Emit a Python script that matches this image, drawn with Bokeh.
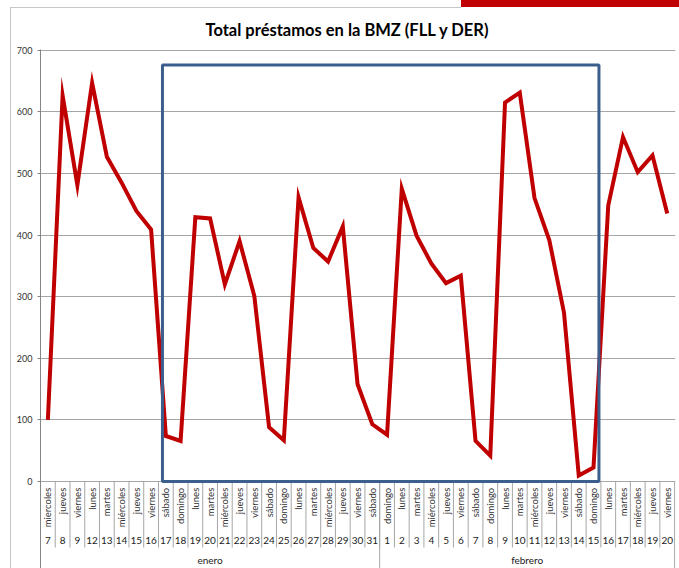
import numpy as np
from bokeh.plotting import figure
from bokeh.models import Range1d, FixedTicker, ColumnDataSource
from bokeh.core.properties import value
from bokeh.embed import file_html
from bokeh.resources import INLINE

# ---------------- data ----------------
titulo = "Total préstamos en la BMZ (FLL y DER)"
meses = ["enero", "febrero"]
dias_enero = [7, 8, 9, 12, 13, 14, 15, 16, 17, 18, 19, 20, 21, 22, 23, 24, 25, 26, 27, 28, 29, 30, 31]
dias_febrero = [1, 2, 3, 4, 5, 6, 7, 8, 9, 10, 11, 12, 13, 14, 15, 16, 17, 18, 19, 20]
nombres_enero = ["miercoles", "jueves", "viernes", "lunes", "martes", "miércoles", "jueves", "viernes",
                 "sábado", "domingo", "lunes", "martes", "miércoles", "jueves", "viernes",
                 "sábado", "domingo", "lunes", "martes", "miércoles", "jueves", "viernes", "sábado"]
nombres_febrero = ["domingo", "lunes", "martes", "miércoles", "jueves", "viernes", "sábado",
                   "domingo", "lunes", "martes", "miércoles", "jueves", "viernes", "sábado",
                   "domingo", "lunes", "martes", "miércoles", "jueves", "viernes"]
prestamos_enero = [100, 626, 481, 647, 527, 485, 439, 409, 74, 66, 429, 427, 320, 390, 301,
                   88, 67, 461, 379, 357, 414, 158, 93]
prestamos_febrero = [76, 475, 399, 354, 322, 334, 66, 42, 615, 631, 460, 392, 274, 10, 23,
                     448, 559, 502, 529, 435]
y_ticks = [0, 100, 200, 300, 400, 500, 600, 700]
# highlighted period: from sábado 17 enero to domingo 15 febrero
resaltado_inicio = ("enero", 17)
resaltado_fin = ("febrero", 15)
resaltado_tope = 676

# ---------------- derived ----------------
dias = dias_enero + dias_febrero
nombres = nombres_enero + nombres_febrero
valores = prestamos_enero + prestamos_febrero
mes_de = ["enero"] * len(dias_enero) + ["febrero"] * len(dias_febrero)
n = len(dias)
xs = list(range(n))
claves = list(zip(mes_de, dias))
i0 = claves.index(resaltado_inicio)
i1 = claves.index(resaltado_fin)

W, H = 679, 568
Y_MIN = -141
p = figure(width=W, height=H, output_backend="svg", toolbar_location=None,
           x_range=Range1d(-0.5, n - 0.5 + 0.06), y_range=Range1d(Y_MIN, 701),
           x_axis_location=None, min_border_left=40, min_border_right=4,
           min_border_top=49, min_border_bottom=0)
p.outline_line_color = None
p.background_fill_color = "white"
p.border_fill_color = None
p.border_fill_alpha = 0

# chart-area border lines and the slide's red bar, drawn as page background
p.styles = {
    "background-color": "white",
    "background-image": ("linear-gradient(#C00000,#C00000), "
                         "linear-gradient(#c8c8c8,#c8c8c8), "
                         "linear-gradient(#c8c8c8,#c8c8c8)"),
    "background-size": "218px 7px, 451px 1px, 1px 561px",
    "background-position": "461px 0px, 10px 7px, 10px 7px",
    "background-repeat": "no-repeat",
}

p.title.text = titulo
p.title.align = "left"
p.title.offset = 165
p.title.text_font = "Lato"
p.title.text_font_style = "bold"
p.title.text_font_size = "16.5px"
p.title.text_color = "#000000"
p.title.standoff = 19

# y axis
p.yaxis.ticker = FixedTicker(ticks=y_ticks)
p.yaxis.axis_line_color = "#868686"
p.yaxis.major_tick_line_color = "#868686"
p.yaxis.major_tick_out = 3
p.yaxis.major_tick_in = 0
p.yaxis.minor_tick_line_color = None
p.yaxis.major_label_standoff = 5
p.yaxis.major_label_text_font = "Lato"
p.yaxis.major_label_text_font_size = "9px"
p.yaxis.major_label_text_color = "#333333"
p.xgrid.visible = False
p.ygrid.ticker = FixedTicker(ticks=y_ticks)
p.ygrid.grid_line_color = "#a6a6a6"
p.ygrid.grid_line_width = 1

# category table below the plot
limites = [x - 0.5 for x in range(1, n)]
p.segment(x0=limites, y0=[0] * len(limites), x1=limites, y1=[-107] * len(limites),
          line_color="#a6a6a6", line_width=1)
corte = mes_de.index("febrero")
bordes_mes = [-0.5, corte - 0.5, n - 0.5]
p.segment(x0=bordes_mes, y0=[0] * 3, x1=bordes_mes, y1=[Y_MIN] * 3,
          line_color="#a6a6a6", line_width=1)

src = ColumnDataSource(dict(x=xs, y=valores, nombre=nombres,
                            dia=[str(d) for d in dias]))
p.text(x="x", y=-10, text="nombre", source=src, angle=np.pi / 2,
       text_align="right", text_baseline="middle", text_font=value("Lato"),
       text_font_size="9.5px", text_color="#333333")
p.text(x="x", y=-96, text="dia", source=src, text_align="center",
       text_baseline="middle", text_font=value("Lato"), text_font_size="10px",
       text_color="#222222")
centros_mes = [(-0.5 + corte - 0.5) / 2, (corte - 0.5 + n - 0.5) / 2]
p.text(x=centros_mes, y=[-128, -128], text=meses, text_align="center",
       text_baseline="middle", text_font=value("Lato"), text_font_size="10px",
       text_color="#222222")

# series
p.line(x="x", y="y", source=src, line_color="#C00000", line_width=4, line_join="miter")

# highlight box
p.quad(left=[i0 - 0.23], right=[i1 + 0.37], bottom=[0], top=[resaltado_tope],
       fill_color=None, line_color="#3B5E8C", line_width=3)

open("out.html", "w").write(file_html(p, INLINE))
